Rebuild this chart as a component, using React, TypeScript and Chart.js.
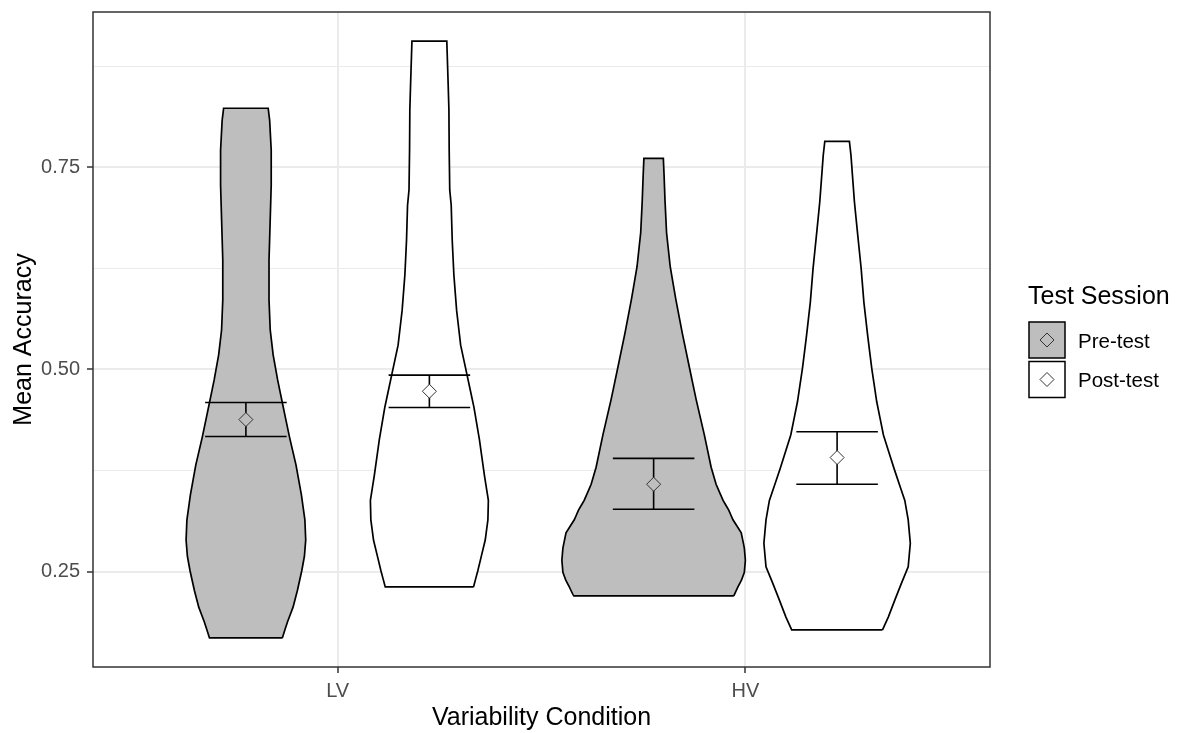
import React, { useEffect, useRef } from "react";
import { Chart, registerables } from "chart.js";

Chart.register(...registerables);

const FONT = "'Liberation Sans', Arial, Helvetica, sans-serif";

// ---- data ---------------------------------------------------------------
const conditions = ["LV", "HV"];
const sessions = ["Pre-test", "Post-test"];
const sessionFill = ["#BEBEBE", "#FFFFFF"];

const yRange = [0.132, 0.942];
const yMajorTicks = [0.25, 0.5, 0.75];
const yMinorTicks = [0.375, 0.625, 0.875];

// Violin outlines: accuracy levels (bottom to top) and the scaled kernel
// density at each level (1 = widest violin in the plot).
const lvPreLevels = [0.168, 0.188, 0.206, 0.227, 0.251, 0.269, 0.289, 0.314, 0.345, 0.382, 0.416, 0.46, 0.487, 0.518, 0.549, 0.586, 0.635, 0.685, 0.728, 0.771, 0.808, 0.823];
const lvPreDensity = [0.397, 0.454, 0.514, 0.562, 0.609, 0.638, 0.652, 0.643, 0.605, 0.546, 0.476, 0.395, 0.346, 0.297, 0.265, 0.252, 0.252, 0.265, 0.276, 0.276, 0.259, 0.243];

const lvPostLevels = [0.231, 0.251, 0.289, 0.314, 0.338, 0.369, 0.413, 0.453, 0.493, 0.53, 0.573, 0.617, 0.66, 0.703, 0.722, 0.771, 0.821, 0.852, 0.87, 0.906];
const lvPostDensity = [0.481, 0.528, 0.609, 0.638, 0.643, 0.6, 0.546, 0.486, 0.411, 0.341, 0.297, 0.267, 0.249, 0.238, 0.222, 0.216, 0.213, 0.205, 0.2, 0.19];

const hvPreLevels = [0.22, 0.231, 0.24, 0.249, 0.264, 0.279, 0.298, 0.314, 0.326, 0.338, 0.358, 0.379, 0.42, 0.462, 0.503, 0.544, 0.586, 0.627, 0.669, 0.709, 0.74, 0.761];
const hvPreDensity = [0.874, 0.919, 0.96, 0.989, 1.0, 0.989, 0.955, 0.865, 0.819, 0.757, 0.681, 0.627, 0.551, 0.465, 0.389, 0.314, 0.243, 0.181, 0.141, 0.124, 0.114, 0.106];

const hvPostLevels = [0.178, 0.194, 0.215, 0.236, 0.256, 0.285, 0.314, 0.338, 0.377, 0.419, 0.46, 0.501, 0.542, 0.583, 0.625, 0.666, 0.707, 0.765, 0.782];
const hvPostDensity = [0.495, 0.559, 0.63, 0.703, 0.775, 0.798, 0.775, 0.738, 0.622, 0.505, 0.432, 0.378, 0.333, 0.292, 0.262, 0.225, 0.189, 0.151, 0.134];

// Mean accuracy with error-bar limits, one value per condition (LV, HV)
const preMean = [0.438, 0.358];
const preLower = [0.417, 0.327];
const preUpper = [0.459, 0.39];
const postMean = [0.473, 0.391];
const postLower = [0.453, 0.358];
const postUpper = [0.493, 0.423];

// ---- geometry in category units --------------------------------------
const DODGE = 0.225; // offset of each session from the category centre
const VIOLIN_HALF = 0.225; // half-width of the widest violin
const CAP_HALF = 0.1; // half-width of the error-bar caps

type Pt = { x: number; y: number | null };

function violinOutline(center: number, levels: number[], density: number[]): Pt[] {
  const right = levels.map((y, i) => ({ x: center + density[i] * VIOLIN_HALF, y }));
  const left = levels.map((y, i) => ({ x: center - density[i] * VIOLIN_HALF, y })).reverse();
  return [...right, ...left, right[0]];
}

function errorBar(center: number, lo: number, hi: number): Pt[] {
  return [
    { x: center - CAP_HALF, y: hi },
    { x: center + CAP_HALF, y: hi },
    { x: center, y: null },
    { x: center, y: hi },
    { x: center, y: lo },
    { x: center, y: null },
    { x: center - CAP_HALF, y: lo },
    { x: center + CAP_HALF, y: lo },
  ];
}

const isMajor = (v: number) => yMajorTicks.some((t) => Math.abs(t - v) < 1e-9);

const panelBorder = {
  id: "panelBorder",
  afterDraw(chart: any) {
    const { ctx, chartArea: a } = chart;
    ctx.save();
    ctx.strokeStyle = "#333333";
    ctx.lineWidth = 1.5;
    ctx.strokeRect(a.left, a.top, a.right - a.left, a.bottom - a.top);
    ctx.restore();
  },
};

const sessionLegend = {
  id: "sessionLegend",
  afterDraw(chart: any) {
    const { ctx, chartArea: a } = chart;
    const x0 = a.right + 39;
    ctx.save();
    ctx.textAlign = "left";
    ctx.textBaseline = "middle";
    ctx.fillStyle = "#000000";
    ctx.font = `25px ${FONT}`;
    ctx.fillText("Test Session", x0 - 1, 297);
    sessions.forEach((label, i) => {
      const top = 322 + i * 39.5;
      const size = 36;
      ctx.fillStyle = sessionFill[i];
      ctx.fillRect(x0, top, size, size);
      ctx.strokeStyle = "#000000";
      ctx.lineWidth = 1.5;
      ctx.strokeRect(x0, top, size, size);
      const cx = x0 + size / 2;
      const cy = top + size / 2;
      const r = 7;
      ctx.beginPath();
      ctx.moveTo(cx, cy - r);
      ctx.lineTo(cx + r, cy);
      ctx.lineTo(cx, cy + r);
      ctx.lineTo(cx - r, cy);
      ctx.closePath();
      ctx.fillStyle = sessionFill[i];
      ctx.fill();
      ctx.lineWidth = 1;
      ctx.strokeStyle = "#333333";
      ctx.stroke();
      ctx.fillStyle = "#000000";
      ctx.font = `20.5px ${FONT}`;
      ctx.fillText(label, x0 + 49, cy + 2);
    });
    ctx.restore();
  },
};

export default function App() {
  const canvasRef = useRef<HTMLCanvasElement>(null);

  useEffect(() => {
    if (!canvasRef.current) return;

    const violins = [
      { c: 1 - DODGE, lv: lvPreLevels, d: lvPreDensity, s: 0 },
      { c: 1 + DODGE, lv: lvPostLevels, d: lvPostDensity, s: 1 },
      { c: 2 - DODGE, lv: hvPreLevels, d: hvPreDensity, s: 0 },
      { c: 2 + DODGE, lv: hvPostLevels, d: hvPostDensity, s: 1 },
    ];

    // A tiny tension keeps Chart.js on its general path renderer, which
    // follows the points in order (the outline is not monotonic in x).
    const violinSets = violins.map((v, i) => ({
      label: `${conditions[Math.floor(i / 2)]} ${sessions[v.s]}`,
      data: violinOutline(v.c, v.lv, v.d),
      borderColor: "#000000",
      borderWidth: 1.7,
      backgroundColor: sessionFill[v.s],
      fill: "shape",
      pointRadius: 0,
      tension: 0.0001,
      order: 3,
    }));

    const stats = [
      { mean: preMean, lo: preLower, hi: preUpper, off: -DODGE, s: 0 },
      { mean: postMean, lo: postLower, hi: postUpper, off: DODGE, s: 1 },
    ];

    const errorSets: any[] = [];
    const meanSets: any[] = [];
    stats.forEach((st) => {
      conditions.forEach((cond, ci) => {
        const x = ci + 1 + st.off;
        errorSets.push({
          label: `${cond} ${sessions[st.s]} error`,
          data: errorBar(x, st.lo[ci], st.hi[ci]),
          borderColor: "#000000",
          borderWidth: 1.6,
          pointRadius: 0,
          spanGaps: false,
          tension: 0.0001,
          fill: false,
          order: 2,
        });
      });
      meanSets.push({
        label: `${sessions[st.s]} mean`,
        data: conditions.map((_, ci) => ({ x: ci + 1 + st.off, y: st.mean[ci] })),
        showLine: false,
        pointStyle: "rectRot",
        pointRadius: 7,
        pointBackgroundColor: sessionFill[st.s],
        pointBorderColor: "#333333",
        pointBorderWidth: 1,
        fill: false,
        order: 1,
      });
    });

    const tickFont = { family: FONT, size: 20 };
    const titleFont = { family: FONT, size: 25 };

    const chart = new Chart(canvasRef.current, {
      type: "line",
      data: { datasets: [...meanSets, ...errorSets, ...violinSets] as any },
      plugins: [panelBorder, sessionLegend],
      options: {
        responsive: false,
        animation: false,
        events: [],
        layout: { padding: { left: 0, right: 200, top: 12, bottom: 0 } },
        plugins: {
          legend: { display: false },
          tooltip: { enabled: false },
        },
        scales: {
          x: {
            type: "linear",
            min: 0.4,
            max: 2.6,
            afterBuildTicks: (scale: any) => {
              scale.ticks = conditions.map((_, i) => ({ value: i + 1 }));
            },
            afterFit: (scale: any) => {
              scale.height = 66;
              scale.paddingLeft = 0;
              scale.paddingRight = 0;
            },
            ticks: {
              callback: (v: any) => conditions[Math.round(Number(v)) - 1] ?? "",
              font: tickFont,
              color: "#4D4D4D",
              padding: 6,
              maxRotation: 0,
              autoSkip: false,
            },
            grid: {
              color: "#EBEBEB",
              lineWidth: 2,
              tickColor: "#333333",
              tickWidth: 1.5,
              tickLength: 6,
            },
            border: { display: false },
            title: {
              display: true,
              text: "Variability Condition",
              font: titleFont,
              color: "#000000",
              padding: { top: 0, bottom: 0 },
            },
          },
          y: {
            type: "linear",
            min: yRange[0],
            max: yRange[1],
            afterBuildTicks: (scale: any) => {
              scale.ticks = [...yMajorTicks, ...yMinorTicks]
                .sort((a, b) => a - b)
                .map((value) => ({ value }));
            },
            afterFit: (scale: any) => {
              scale.width = 93;
              scale.paddingTop = 0;
              scale.paddingBottom = 0;
            },
            ticks: {
              callback: (v: any) => (isMajor(Number(v)) ? Number(v).toFixed(2) : ""),
              font: tickFont,
              color: "#4D4D4D",
              padding: 7,
              autoSkip: false,
            },
            grid: {
              color: "#EBEBEB",
              lineWidth: (c: any) => (c.tick && isMajor(c.tick.value) ? 2 : 1),
              tickColor: (c: any) => (c.tick && isMajor(c.tick.value) ? "#333333" : "rgba(0,0,0,0)"),
              tickWidth: 1.5,
              tickLength: 6,
            },
            border: { display: false },
            title: {
              display: true,
              text: "Mean Accuracy",
              font: titleFont,
              color: "#000000",
              padding: { top: 9, bottom: 0 },
            },
          },
        },
      } as any,
    });

    return () => chart.destroy();
  }, []);

  return (
    <div style={{ position: "absolute", left: 0, top: 0, width: 1190, height: 733, background: "#ffffff" }}>
      <canvas ref={canvasRef} width={1190} height={733} style={{ display: "block" }} />
    </div>
  );
}
